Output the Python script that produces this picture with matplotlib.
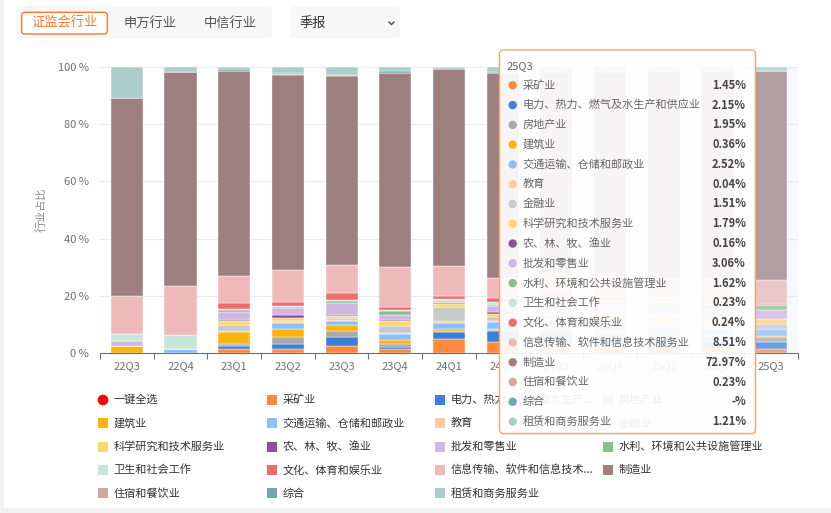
import numpy as np
import matplotlib
matplotlib.use("Agg")
import matplotlib.pyplot as plt
from matplotlib.patches import FancyBboxPatch, Rectangle, Circle

plt.rcParams['font.family'] = ['Noto Sans CJK SC', 'DejaVu Sans']

quarters = ['22Q3', '22Q4', '23Q1', '23Q2', '23Q3', '23Q4', '24Q1', '24Q2',
            '24Q3', '24Q4', '25Q1', '25Q2', '25Q3']

names = ['采矿业', '电力、热力、燃气及水生产和供应业', '房地产业', '建筑业',
         '交通运输、仓储和邮政业', '教育', '金融业', '科学研究和技术服务业',
         '农、林、牧、渔业', '批发和零售业', '水利、环境和公共设施管理业',
         '卫生和社会工作', '文化、体育和娱乐业', '信息传输、软件和信息技术服务业',
         '制造业', '住宿和餐饮业', '综合', '租赁和商务服务业']

legend_labels = ['采矿业', '电力、热力、燃气及水生产...', '房地产业', '建筑业',
                 '交通运输、仓储和邮政业', '教育', '金融业', '科学研究和技术服务业',
                 '农、林、牧、渔业', '批发和零售业', '水利、环境和公共设施管理业',
                 '卫生和社会工作', '文化、体育和娱乐业', '信息传输、软件和信息技术...',
                 '制造业', '住宿和餐饮业', '综合', '租赁和商务服务业']

colors = ['#FF8A3D', '#3C7FD6', '#A9A9A9', '#FFB30F', '#8CBFFF', '#FFCDA0',
          '#C9C9C9', '#FFD76A', '#8E4E9F', '#D2B6E2', '#8BBE8B', '#C5E6D8',
          '#F06B6B', '#F0B9B9', '#9C7F7E', '#CFA99C', '#74A8A8', '#ABCDCB']

mining        = [0, 0, 1.2, 1.3, 2.45, 1.3, 4.7, 3.85, 3.5, 2.5, 2.0, 1.6, 1.45]
power         = [0, 0, 1.2, 1.9, 3.15, 0.6, 2.7, 3.7, 3.0, 2.5, 2.3, 2.2, 2.15]
real_estate   = [0, 0, 0.8, 2.2, 2.1, 1.2, 0.1, 0.3, 1.5, 1.8, 1.9, 1.9, 1.95]
construction  = [2.45, 0, 4.0, 2.8, 1.9, 1.4, 0.8, 0.6, 0.8, 0.6, 0.5, 0.4, 0.36]
transport     = [0, 1.4, 0.3, 2.3, 1.6, 2.2, 2.1, 2.4, 2.5, 2.6, 2.5, 2.5, 2.52]
education     = [0, 0, 0.2, 0.2, 0.4, 0.3, 0.6, 0.3, 0.2, 0.1, 0.1, 0.05, 0.04]
finance       = [0, 0, 1.9, 0.3, 0.6, 2.3, 4.9, 1.5, 2.0, 1.8, 1.6, 1.5, 1.51]
research      = [0, 0, 1.5, 1.0, 0.5, 1.9, 1.3, 0.9, 1.5, 1.8, 1.8, 1.8, 1.79]
agriculture   = [0, 0, 0.3, 1.3, 0.5, 0.1, 0.1, 0.8, 0.5, 0.3, 0.2, 0.2, 0.16]
wholesale     = [1.75, 0, 3.0, 2.3, 4.3, 1.75, 0.4, 2.0, 2.5, 2.8, 3.0, 3.0, 3.06]
water         = [0, 0, 0.5, 0.4, 0.6, 1.4, 0.5, 0.3, 1.0, 1.3, 1.5, 1.6, 1.62]
health        = [2.3, 4.8, 0.4, 0.2, 0.4, 0.5, 0.5, 1.2, 0.6, 0.4, 0.3, 0.25, 0.23]
culture       = [0, 0, 2.0, 1.4, 2.4, 0.9, 1.3, 1.2, 0.8, 0.5, 0.3, 0.25, 0.24]
it_services   = [13.5, 17.0, 9.7, 11.4, 9.9, 14.1, 10.3, 6.95, 7.5, 8.0, 8.3, 8.4, 8.51]
manufacturing = [69.4, 75.2, 71.6, 68.4, 66.3, 67.9, 69.2, 71.9, 70.5, 71.5, 72.3, 72.9, 72.97]
hospitality   = [0, 0, 0.1, 0.1, 0.1, 0.1, 0, 0.1, 0.2, 0.2, 0.2, 0.2, 0.23]
conglomerate  = [0, 0, 0.6, 0.4, 0.1, 0.6, 0.2, 0.2, 0.1, 0.1, 0, 0, np.nan]
leasing       = [10.6, 1.6, 0.7, 2.2, 2.7, 1.45, 0.3, 1.8, 1.3, 1.2, 1.2, 1.25, 1.21]

series = [mining, power, real_estate, construction, transport, education, finance,
          research, agriculture, wholesale, water, health, culture, it_services,
          manufacturing, hospitality, conglomerate, leasing]

hover_index = 12  # 25Q3

W, H = 831, 513
fig = plt.figure(figsize=(W / 100, H / 100), dpi=100)
fig.patch.set_facecolor('white')

# main axes
L, R, T, B = 100, 798, 67.3, 352.7
ax = fig.add_axes([L / W, 1 - B / H, (R - L) / W, (B - T) / H])
x = np.arange(len(quarters))
bottom = np.zeros(len(quarters))
for vals, c in zip(series, colors):
    v = np.nan_to_num(np.array(vals, dtype=float))
    ax.bar(x, v, 0.6, bottom=bottom, color=c, edgecolor='white', linewidth=0.3, zorder=2)
    bottom += v

ax.axvspan(hover_index - 0.5, hover_index + 0.5, color='#e3e9f4', alpha=0.3, zorder=3, lw=0)

ax.set_xlim(-0.5, len(quarters) - 0.5)
ax.set_ylim(0, 100)
ax.set_yticks([0, 20, 40, 60, 80, 100])
ax.set_yticklabels([f'{v} %' for v in [0, 20, 40, 60, 80, 100]], color='#6e7079', fontsize=8)
ax.yaxis.grid(True, color='#e6eaf2', lw=0.8, zorder=0)
ax.set_axisbelow(True)
ax.tick_params(axis='y', length=0, pad=8)
ax.set_xticks(x)
ax.set_xticklabels(quarters, color='#6e7079', fontsize=8)
ax.set_xticks(np.arange(len(quarters) + 1) - 0.5, minor=True)
ax.tick_params(axis='x', which='major', length=0, pad=6)
ax.tick_params(axis='x', which='minor', length=4, color='#6e7079', width=0.8)
for s in ['top', 'right', 'left']:
    ax.spines[s].set_visible(False)
ax.spines['bottom'].set_color('#6e7079')
ax.spines['bottom'].set_linewidth(0.8)
ax.patch.set_alpha(0)

# overlay axes in pixel coords
ov = fig.add_axes([0, 0, 1, 1])
ov.set_xlim(0, W)
ov.set_ylim(H, 0)
ov.axis('off')
ov.set_facecolor('none')

# page edges
ov.add_patch(Rectangle((0, 0), 4, H, color='#f2f2f2', lw=0))
ov.add_patch(Rectangle((0, 508), W, 5, color='#f2f2f2', lw=0))

# y-axis title
ov.text(41, 210, '行业占比', rotation=90, ha='center', va='center', fontsize=8, color='#8a8a8a')

# top controls
ov.add_patch(FancyBboxPatch((16, 6.7), 256, 31.6, boxstyle='round,pad=0,rounding_size=4',
                            fc='#f7f7f7', ec='none'))
ov.add_patch(FancyBboxPatch((21.7, 12.3), 85.6, 21.7, boxstyle='round,pad=0,rounding_size=3',
                            fc='white', ec='#f47c2c', lw=1))
ov.text(64.5, 23, '证监会行业', ha='center', va='center', fontsize=9.5, color='#f47c2c')
ov.text(150, 23, '申万行业', ha='center', va='center', fontsize=9.5, color='#555555')
ov.text(230, 23, '中信行业', ha='center', va='center', fontsize=9.5, color='#555555')
ov.add_patch(FancyBboxPatch((290.7, 6.7), 109.3, 31.6, boxstyle='round,pad=0,rounding_size=4',
                            fc='#f7f7f7', ec='none'))
ov.text(300, 23, '季报', ha='left', va='center', fontsize=9.5, color='#333333')
ov.plot([389, 391.5, 394], [22, 24.5, 22], color='#333333', lw=0.9)

# legend
col_x = [103, 271.7, 440, 608.3]
row_y = [400, 423.3, 446.7, 470, 493.3]
items = [('一键全选', '#ff0000', True)] + [(lab, c, False) for lab, c in zip(legend_labels, colors)]
for i, (lab, c, circ) in enumerate(items):
    cx = col_x[i % 4]
    cy = row_y[i // 4]
    if circ:
        ov.add_patch(Circle((cx, cy), 5.3, color=c, lw=0))
    else:
        ov.add_patch(Rectangle((cx - 5, cy - 5), 10, 10, color=c, lw=0))
    ov.text(cx + 10.5, cy, lab, ha='left', va='center', fontsize=8, color='#333333')

# tooltip
tx0, ty0, tx1, ty1 = 499.5, 50, 755.5, 433.5
ov.add_patch(FancyBboxPatch((tx0 + 1, ty0 + 2), tx1 - tx0, ty1 - ty0,
                            boxstyle='round,pad=0,rounding_size=4',
                            fc='#000000', alpha=0.04, ec='none', zorder=5))
ov.add_patch(FancyBboxPatch((tx0, ty0), tx1 - tx0, ty1 - ty0,
                            boxstyle='round,pad=0,rounding_size=4',
                            fc=(1, 1, 1, 0.92), ec='#f7a56b', lw=1, zorder=6))
ov.text(507, 66, quarters[hover_index], ha='left', va='center', fontsize=8, color='#666666', zorder=7)
for i, (name, c, vals) in enumerate(zip(names, colors, series)):
    yy = 85.3 + i * 19.78
    ov.add_patch(Circle((512.7, yy), 4.2, color=c, lw=0, zorder=7))
    ov.text(522.5, yy, name, ha='left', va='center', fontsize=8, color='#666666', zorder=7)
    v = vals[hover_index]
    txt = '-%' if np.isnan(v) else f'{v:.2f}%'
    ov.text(746, yy, txt, ha='right', va='center', fontsize=8, color='#444444',
            fontweight='bold', zorder=7)

fig.savefig('out.png', dpi=100, facecolor='white')
